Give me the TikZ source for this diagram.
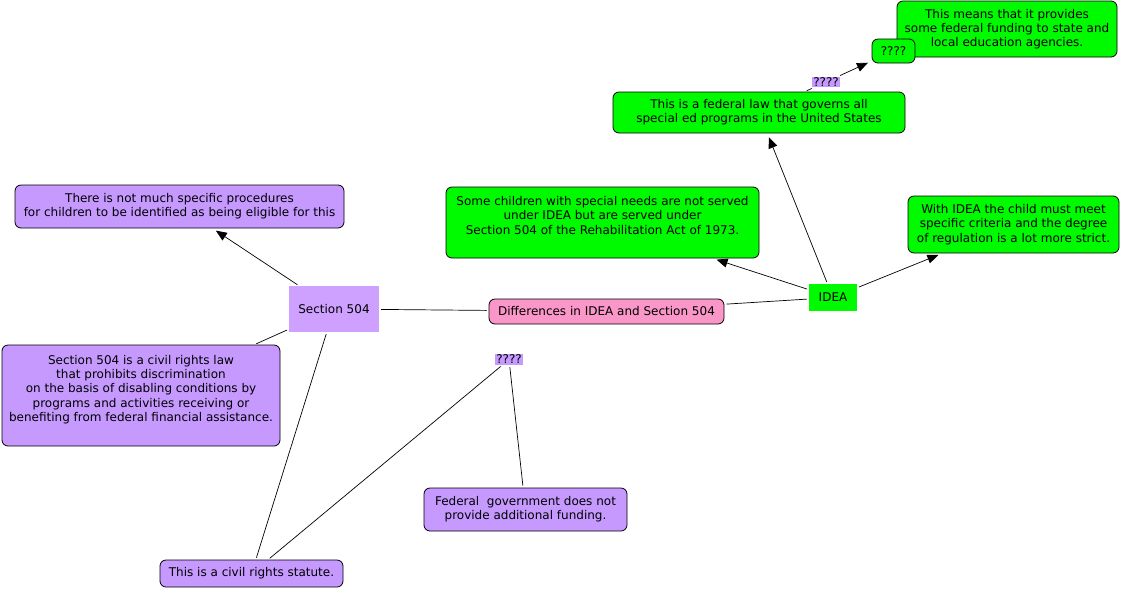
\documentclass[tikz,border=0pt]{standalone}
\usepackage{fontspec}
\setmainfont{DejaVu Sans}
\usepackage{xcolor}
\usetikzlibrary{arrows.meta}

\definecolor{mapgreen}{RGB}{0,250,0}
\definecolor{mappurple}{RGB}{198,153,255}
\definecolor{lightpurple}{RGB}{206,160,255}
\definecolor{mappink}{RGB}{250,150,200}

\begin{document}
\begin{tikzpicture}[x=1pt, y=-1pt, >={Triangle[length=11pt, width=9pt]},
  font=\fontsize{12}{14.3}\selectfont,
  concept/.style={draw=black, line width=0.8pt, rounded corners=6pt, align=center, inner sep=2pt},
  greenbox/.style={concept, fill=mapgreen},
  purplebox/.style={concept, fill=mappurple},
  linkword/.style={fill=mappurple, inner sep=1pt},
  link/.style={line width=0.7pt, shorten <=2pt, shorten >=2pt},
  arrowlink/.style={link, ->, shorten >=4pt}]

  \useasboundingbox (0,0) rectangle (1121,590);

  % IDEA side
  \node[greenbox, minimum width=220pt, minimum height=56pt] (provides) at (1007,29) {This means that it provides\\some federal funding to state and\\local education agencies.};
  \node[greenbox, minimum width=43pt, minimum height=24pt] (q3) at (893.5,51) {????};
  \node[linkword] (q1) at (826,82) {????};
  \node[greenbox, minimum width=292pt, minimum height=41pt] (fedlaw) at (759,112.5) {This is a federal law that governs all\\special ed programs in the United States};
  \node[greenbox, minimum width=313pt, minimum height=71pt] (some) at (602.5,222.5) {Some children with special needs are not served\\under IDEA but are served under\\Section 504 of the Rehabilitation Act of 1973.\\ \mbox{}};
  \node[greenbox, minimum width=211pt, minimum height=57pt] (with) at (1013.5,224.5) {With IDEA the child must meet\\specific criteria and the degree\\of regulation is a lot more strict.};
  \node[fill=mapgreen, minimum width=48pt, minimum height=27pt] (idea) at (833,297.5) {IDEA};

  % middle
  \node[concept, fill=mappink, minimum width=235pt, minimum height=25pt] (diff) at (606.5,311.5) {Differences in IDEA and Section 504};

  % Section 504 side
  \node[fill=lightpurple, minimum width=90pt, minimum height=46pt] (s504) at (334,309) {Section 504};
  \node[purplebox, minimum width=329pt, minimum height=43pt] (there) at (179.5,206.5) {There is not much specific procedures\\for children to be identified as being eligible for this};
  \node[purplebox, minimum width=278pt, minimum height=101pt] (civil) at (141,395.5) {Section 504 is a civil rights law\\that prohibits discrimination\\on the basis of disabling conditions by\\programs and activities receiving or\\benefiting from federal financial assistance.\\ \mbox{}};
  \node[linkword] (q2) at (509,359.5) {????};
  \node[purplebox, minimum width=203pt, minimum height=43pt] (federal) at (525.5,509.5) {Federal\ \ government does not\\provide additional funding.};
  \node[purplebox, minimum width=183pt, minimum height=27pt] (statute) at (251.5,573.5) {This is a civil rights statute.};

  % connectors
  \draw[arrowlink] (s504) -- (there);
  \draw[link] (s504) -- (civil);
  \draw[link] (s504) -- (diff);
  \draw[link] (diff) -- (idea);
  \draw[arrowlink] (idea) -- (some);
  \draw[arrowlink] (idea) -- (fedlaw);
  \draw[arrowlink] (idea) -- (with);
  \draw[link] (fedlaw) -- (q1);
  \draw[arrowlink] (q1) -- (q3);
  \draw[link] (s504) -- (statute);
  \draw[link] (statute) -- (q2);
  \draw[link] (q2) -- (federal);
\end{tikzpicture}
\end{document}
